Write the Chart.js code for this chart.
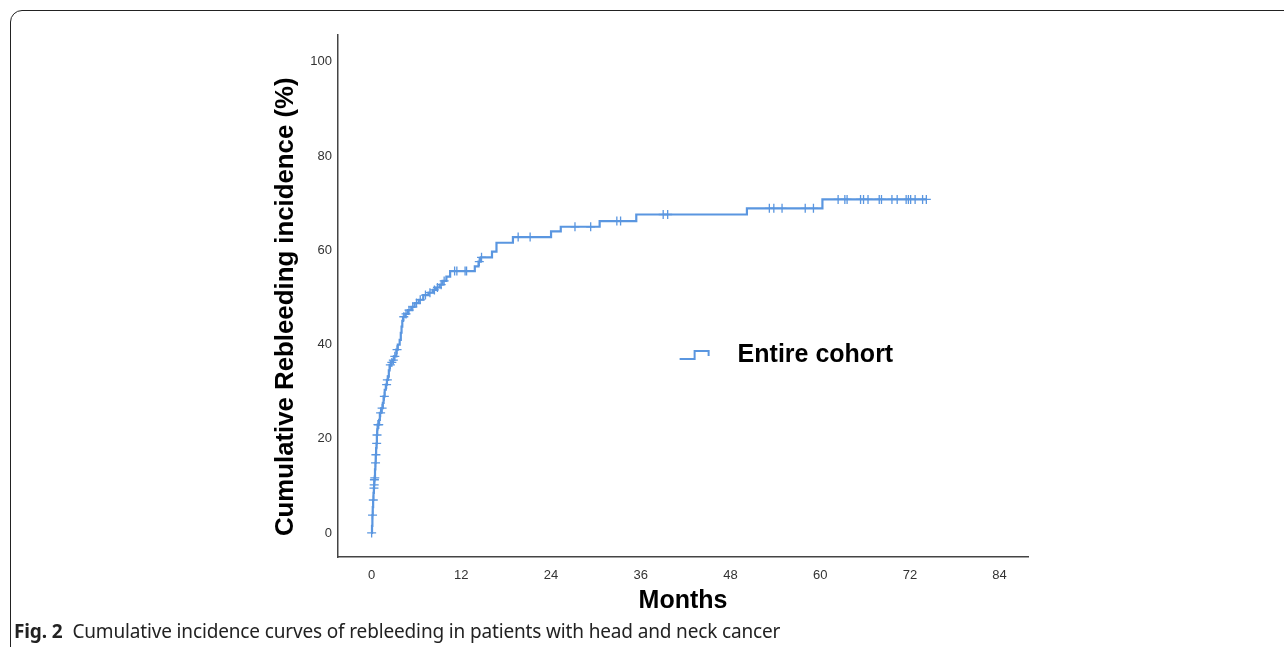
<!DOCTYPE html>
<html>
<head>
<meta charset="utf-8">
<script src="https://cdn.jsdelivr.net/npm/chart.js@4.4.0/dist/chart.umd.min.js"></script>
<style>
  html, body { margin: 0; padding: 0; background: #fff; }
  body { width: 1284px; height: 647px; position: relative; overflow: hidden; }
  #frame {
    position: absolute; left: 10px; top: 10px; width: 1400px; height: 800px;
    border: 1px solid #222; border-radius: 12px; box-sizing: border-box;
  }
  #wrap { position: absolute; left: 0; top: 0; width: 1284px; height: 620px; }
  #caption {
    position: absolute; left: 14px; top: 618px;
    font-family: "Noto Sans", "Open Sans", sans-serif; font-size: 19px; color: #222;
    letter-spacing: -0.15px; white-space: nowrap;
  }
  #caption b { margin-right: 10px; }
</style>
</head>
<body>
<div id="frame"></div>
<div id="wrap"><canvas id="myChart" width="1284" height="620"></canvas></div>
<div id="caption"><b>Fig. 2</b>Cumulative incidence curves of rebleeding in patients with head and neck cancer</div>
<script>
// event times (months) and cumulative rebleeding incidence (%) after each event
const eventMonths = [
  0.05, 0.1, 0.15, 0.2, 0.25, 0.3, 0.33, 0.36, 0.4, 0.45, 0.5, 0.55, 0.6, 0.65, 0.7, 0.75, 0.8,
  1.0, 1.1, 1.3, 1.5, 1.6, 1.75, 1.9, 2.05, 2.2, 2.3, 2.4, 2.6, 2.85, 3.0, 3.3, 3.5, 3.75,
  3.9, 4.0, 4.1, 4.2, 4.5, 4.85, 5.3, 5.75, 6.3, 6.9, 7.6, 8.2, 8.6, 9.1, 9.5, 10.0, 10.5,
  13.8, 14.3, 14.6, 16.1, 16.7, 18.9, 24.0, 25.3, 30.5, 35.4, 50.2, 60.3
];
const cumIncidence = [
  1.5, 3.8, 5.5, 7.0, 8.5, 9.5, 10.2, 11.3, 11.7, 13.5, 14.9, 16.6, 18.0, 19.0, 20.8, 22.0, 23.0,
  24.0, 25.5, 26.5, 27.6, 29.0, 30.4, 31.5, 32.5, 33.2, 34.5, 35.7, 36.2, 36.7, 37.5, 38.9, 40.0, 41.0,
  42.5, 43.8, 45.0, 45.9, 46.5, 47.3, 48.0, 48.8, 49.5, 50.5, 51.0, 51.6, 52.1, 52.7, 53.5, 54.4, 55.6,
  56.6, 57.6, 58.5, 59.7, 61.6, 62.8, 64.0, 65.0, 66.2, 67.6, 68.9, 70.8
];
// censored observations (months)
const censorMonths = [
  0, 0.12, 0.22, 0.31, 0.34, 0.37, 0.42, 0.52, 0.57, 0.67, 0.72, 0.85, 0.9, 0.95,
  1.2, 1.4, 1.7, 2.0, 2.1, 2.5, 2.7, 2.9, 3.1, 3.4, 4.3, 4.6, 5.0, 5.5, 6.0, 6.5, 7.2,
  7.8, 8.4, 8.8, 9.3, 9.7, 11.1, 11.4, 12.5, 12.7, 14.4, 14.7, 19.6, 21.2, 27.2, 29.3,
  32.8, 33.3, 39.0, 39.6, 53.2, 53.8, 54.9, 58.0, 59.1, 62.4, 63.3, 63.6, 65.4, 65.8,
  66.4, 67.9, 68.2, 69.6, 70.3, 71.5, 71.8, 72.1, 72.7, 73.7, 74.2
];
const xTicks = [0, 12, 24, 36, 48, 60, 72, 84];
const yTicks = [0, 20, 40, 60, 80, 100];
const seriesLabel = 'Entire cohort';

const lineColor = '#5a96e0';

function valueAt(t) {
  let v = 0;
  for (let i = 0; i < eventMonths.length; i++) {
    if (eventMonths[i] <= t) v = cumIncidence[i];
  }
  return v;
}

const curve = [{ x: 0, y: 0 }];
eventMonths.forEach((t, i) => curve.push({ x: t, y: cumIncidence[i] }));
const lastCensor = Math.max(...censorMonths);
curve.push({ x: lastCensor, y: valueAt(lastCensor) });

const censored = censorMonths.map(t => ({ x: t, y: valueAt(t) }));

const legendPlugin = {
  id: 'insideLegend',
  afterDraw(chart) {
    const { ctx, chartArea } = chart;
    const x = chartArea.left + (chartArea.right - chartArea.left) * 0.498;
    const y = chartArea.top + (chartArea.bottom - chartArea.top) * 0.611;
    ctx.save();
    ctx.strokeStyle = lineColor;
    ctx.lineWidth = 2;
    ctx.beginPath();
    ctx.moveTo(x - 2, y + 5);
    ctx.lineTo(x + 13, y + 5);
    ctx.lineTo(x + 13, y - 3);
    ctx.lineTo(x + 27, y - 3);
    ctx.lineTo(x + 27, y + 2);
    ctx.stroke();
    ctx.fillStyle = '#000';
    ctx.font = 'bold 25px "Liberation Sans", Arial, sans-serif';
    ctx.textBaseline = 'middle';
    ctx.fillText(seriesLabel, x + 56, y + 1);
    ctx.restore();
  }
};

const tickFont = { family: '"Liberation Sans", Arial, sans-serif', size: 13 };
const titleFont = { family: '"Liberation Sans", Arial, sans-serif', size: 25, weight: 'bold' };

const ctx = document.getElementById('myChart').getContext('2d');
const chart = new Chart(ctx, {
  type: 'line',
  data: {
    datasets: [
      {
        label: seriesLabel,
        data: curve,
        stepped: 'before',
        borderColor: lineColor,
        borderWidth: 2.2,
        pointRadius: 0,
        fill: false
      },
      {
        label: 'Censored',
        data: censored,
        showLine: false,
        pointStyle: 'cross',
        pointRadius: 4.5,
        pointBorderWidth: 1.3,
        pointBorderColor: lineColor,
        pointBackgroundColor: lineColor
      }
    ]
  },
  options: {
    responsive: false,
    animation: false,
    layout: { padding: { left: 260, right: 256, top: 35, bottom: 0 } },
    plugins: {
      legend: { display: false },
      tooltip: { enabled: false }
    },
    scales: {
      x: {
        type: 'linear',
        min: -4.5,
        max: 87.8,
        afterBuildTicks: s => { s.ticks = xTicks.map(v => ({ value: v })); },
        afterFit: s => { s.height = 63; },
        grid: { display: false, drawTicks: false },
        border: { color: '#444', width: 1.5 },
        ticks: { padding: 11, color: '#333', font: tickFont },
        title: {
          display: true,
          text: 'Months',
          color: '#000',
          padding: { top: 0, bottom: 4 },
          font: titleFont
        }
      },
      y: {
        type: 'linear',
        min: -5.1,
        max: 105.7,
        afterBuildTicks: s => { s.ticks = yTicks.map(v => ({ value: v })); },
        afterFit: s => { s.width = 78; },
        grid: { display: false, drawTicks: false },
        border: { color: '#444', width: 1.5 },
        ticks: { padding: 6, color: '#333', font: tickFont },
        title: {
          display: true,
          // trailing spaces nudge the centred title a little towards the bottom, as in the figure
          text: 'Cumulative Rebleeding incidence (%)\u00a0\u00a0\u00a0',
          color: '#000',
          padding: { top: 10, bottom: 0 },
          font: { family: titleFont.family, size: 25.8, weight: 'bold' }
        }
      }
    }
  },
  plugins: [legendPlugin]
});
</script>
</body>
</html>
